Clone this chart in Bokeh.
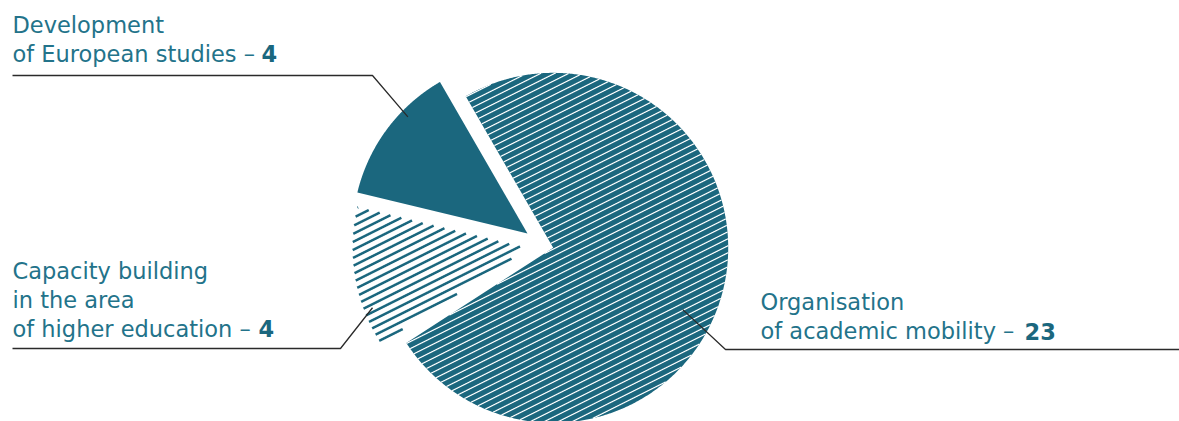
import numpy as np
from bokeh.plotting import figure
from bokeh.models import Range1d
from bokeh.core.properties import value
from bokeh.embed import file_html
from bokeh.resources import INLINE

# ---------------- data ----------------
categories = ["Development of European studies",
              "Capacity building in the area of higher education",
              "Organisation of academic mobility"]
counts = [4, 4, 23]
label_lines = [["Development", "of European studies –"],
               ["Capacity building", "in the area", "of higher education –"],
               ["Organisation", "of academic mobility –"]]

# ---------------- layout / style ----------------
TEAL = "#1b677e"
TEXT = "#23738a"
LEADER = "#2a2a2a"
CX, CY, R = 543.0, 245.0, 175.0
START = 120.0
EXPLODE = [20.0, 16.0, 10.0]
FONT = "DejaVu Sans"
FS = "22.5px"

W, H = 1179, 421
p = figure(width=W, height=H, x_range=Range1d(0, W), y_range=Range1d(H, 0),
           output_backend="svg", toolbar_location=None, min_border=0,
           x_axis_type=None, y_axis_type=None)
p.grid.visible = False
p.outline_line_color = None
p.background_fill_color = "white"
p.border_fill_color = "white"

vals = np.array(counts, dtype=float)
spans = vals / vals.sum() * 360.0
a0s = START + np.concatenate([[0], np.cumsum(spans)[:-1]])
a1s = a0s + spans
mids = (a0s + a1s) / 2

centers = []
for e, m in zip(EXPLODE, mids):
    r = np.radians(m)
    centers.append((CX + e * np.cos(r), CY - e * np.sin(r)))

def sector(center, a0, a1, n=240):
    cx, cy = center
    t = np.radians(np.linspace(a0, a1, n))
    xs = np.concatenate([[cx], cx + R * np.cos(t), [cx]])
    ys = np.concatenate([[cy], cy - R * np.sin(t), [cy]])
    return list(xs), list(ys)

phi = np.arctan(0.5)
dvec = np.array([np.cos(phi), -np.sin(phi)])
nvec = np.array([np.sin(phi), np.cos(phi)])

def hatch(center, a0, a1, spacing, phase=0.0):
    cx, cy = center
    cc = nvec[0] * cx + nvec[1] * cy
    span = a1 - a0
    xs_out, ys_out = [], []
    k0 = int(np.floor((cc - R - phase) / spacing))
    k1 = int(np.ceil((cc + R - phase) / spacing))
    for k in range(k0, k1 + 1):
        c = k * spacing + phase
        t0 = c - cc
        if abs(t0) >= R:
            continue
        h = np.sqrt(R * R - t0 * t0)
        s = np.append(np.arange(-h, h, 0.25), h)
        px = cx + t0 * nvec[0] + s * dvec[0]
        py = cy + t0 * nvec[1] + s * dvec[1]
        ang = np.degrees(np.arctan2(-(py - cy), px - cx))
        rel = (ang - a0) % 360.0
        inside = rel <= span
        if not inside.any():
            continue
        idx = np.flatnonzero(np.diff(np.concatenate([[0], inside.astype(int), [0]])))
        for st, en in zip(idx[0::2], idx[1::2]):
            if en - st < 2:
                continue
            xs_out.append(list(px[st:en]))
            ys_out.append(list(py[st:en]))
    return xs_out, ys_out

# slice 0: solid
xs, ys = sector(centers[0], a0s[0], a1s[0])
p.patch(xs, ys, fill_color=TEAL, line_color=None)

# slice 1: white with teal lines
hx, hy = hatch(centers[1], a0s[1], a1s[1], 8.0 * np.cos(phi), 1.5)
p.multi_line(hx, hy, line_color=TEAL, line_width=2.5, line_cap="butt")

# slice 2: teal with white lines
xs, ys = sector(centers[2], a0s[2], a1s[2], 600)
p.patch(xs, ys, fill_color=TEAL, line_color=None)
hx, hy = hatch(centers[2], a0s[2], a1s[2], 7.0 * np.cos(phi), 0.0)
p.multi_line(hx, hy, line_color="white", line_width=1.2, line_cap="butt")

# leader lines (inner ends tied to slice geometry)
def inner(i, frac, ang):
    cx, cy = centers[i]
    r = np.radians(ang)
    return cx + frac * R * np.cos(r), cy - frac * R * np.sin(r)

ix, iy = inner(0, 0.955, 135.7)
p.line([12, 372, ix], [75, 75, iy], line_color=LEADER, line_width=1.3)
ix, iy = inner(1, 0.95, 201.0)
p.line([12, 340, ix], [348, 348, iy], line_color=LEADER, line_width=1.3)
ix, iy = inner(2, 0.82, -25.5)
p.line([ix, 725, 1179], [iy, 349, 349], line_color=LEADER, line_width=1.3)

# labels
label_x = [12, 12, 760]
label_y0 = [24, 270, 301.5]
line_h = 29.2
num_x = [261, 258, 1024]
tx, ty, tt = [], [], []
for i, lines in enumerate(label_lines):
    for j, t in enumerate(lines):
        tx.append(label_x[i]); ty.append(label_y0[i] + j * line_h); tt.append(t)
p.text(x=tx, y=ty, text=tt, text_font=value(FONT), text_font_size=FS,
       text_color=TEXT, text_baseline="alphabetic", text_align="left")

nx = num_x
ny = [label_y0[i] + (len(label_lines[i]) - 1) * line_h for i in range(3)]
nt = [str(c) for c in counts]
p.text(x=nx, y=ny, text=nt, text_font=value(FONT), text_font_size=FS,
       text_font_style="bold", text_color=TEAL, text_baseline="alphabetic",
       text_align="left")

open("out.html", "w").write(file_html(p, INLINE))
